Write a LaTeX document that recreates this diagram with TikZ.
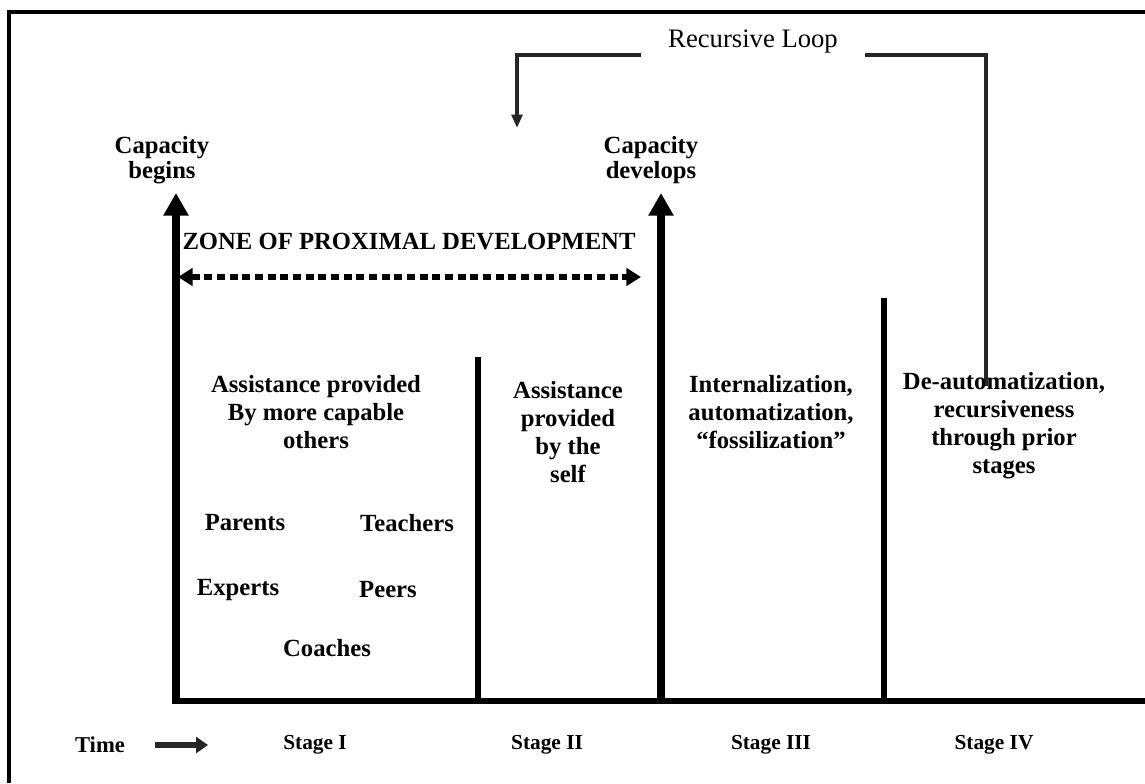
\documentclass[tikz,border=0pt]{standalone}
\usepackage{fontspec}
\setmainfont{Liberation Serif}
\usetikzlibrary{arrows.meta}
\begin{document}
\begin{tikzpicture}[x=0.75pt,y=-0.75pt,
  body/.style={font=\bfseries\fontsize{18.5}{21}\selectfont, align=center, inner sep=0pt},
  caplbl/.style={font=\bfseries\fontsize{18.5}{19}\selectfont, align=center, inner sep=0pt},
  stagelbl/.style={font=\bfseries\fontsize{16}{18}\selectfont, inner sep=0pt},
  framel/.style={line width=3pt, line join=miter},
  bigarrow/.style={line width=5.5pt, -{Triangle[width=18pt,length=17pt]}},
  divider/.style={line width=4.5pt},
  zpd/.style={line width=5pt, dash pattern=on 6pt off 3.5pt,
     {Triangle[width=13pt,length=11pt]}-{Triangle[width=13pt,length=11pt]}},
  loopline/.style={line width=2.5pt, black!85, -{Triangle[width=8pt,length=10pt]}},
  timearrow/.style={line width=4.5pt, black!85, -{Triangle[width=12pt,length=9pt]}}
]
\useasboundingbox (0,0) rectangle (1145,783);

% frame
\draw[framel] (9,783) -- (9,12) -- (1145,12);

% coordinates
\coordinate (a1b) at (176,703);
\coordinate (a1t) at (176,193);
\coordinate (a2b) at (661,703);
\coordinate (a2t) at (661,193);
\coordinate (d1t) at (478,357);
\coordinate (d1b) at (478,701);
\coordinate (d3t) at (884,298);
\coordinate (d3b) at (884,701);
\coordinate (axL) at (172,701);
\coordinate (axR) at (1145,701);
\coordinate (zL) at (178,277);
\coordinate (zR) at (641,277);
\coordinate (lpS) at (986,386);
\coordinate (lpC1) at (986,55);
\coordinate (lpC2) at (517,55);
\coordinate (lpE) at (517,128);

% axis and dividers
\draw[divider] (axL) -- (axR);
\draw[divider] (d1t) -- (d1b);
\draw[divider] (d3t) -- (d3b);
\draw[bigarrow] (a1b) -- (a1t);
\draw[bigarrow] (a2b) -- (a2t);

% zone
\node[caplbl] (zone) at (409,242) {ZONE OF PROXIMAL DEVELOPMENT};
\draw[zpd] (zL) -- (zR);

% recursive loop
\draw[loopline] (lpS) -- (lpC1) -- (lpC2) -- (lpE);
\node[fill=white, minimum width=168pt, minimum height=30pt, inner sep=0pt,
      font=\fontsize{20}{22}\selectfont] (rl) at (753,42) {Recursive Loop};

% capacity labels
\node[caplbl] (cb) at (162,160) {Capacity\\begins};
\node[caplbl] (cd) at (651,160) {Capacity\\develops};

% stage texts
\node[body] (s1) at (316,412) {Assistance provided\\By more capable\\others};
\node[body] (s2) at (568,432) {Assistance\\provided\\by the\\self};
\node[body] (s3) at (771,412) {Internalization,\\automatization,\\``fossilization''};
\node[body] (s4) at (1004,426) {De-automatization,\\recursiveness\\through prior\\stages};

\node[body] (par) at (245,523) {Parents};
\node[body] (tea) at (407,523) {Teachers};
\node[body] (exp) at (238,590) {Experts};
\node[body] (pee) at (388,590) {Peers};
\node[body] (coa) at (327,648) {Coaches};

% bottom labels
\node[stagelbl, font=\bfseries\fontsize{17}{18}\selectfont] (time) at (100,745) {Time};
\coordinate (tS) at (155,745);
\coordinate (tE) at (208,745);
\draw[timearrow] (tS) -- (tE);
\node[stagelbl] (st1) at (315,745) {Stage I};
\node[stagelbl] (st2) at (547,745) {Stage II};
\node[stagelbl] (st3) at (771,745) {Stage III};
\node[stagelbl] (st4) at (994,745) {Stage IV};
\end{tikzpicture}
\end{document}
